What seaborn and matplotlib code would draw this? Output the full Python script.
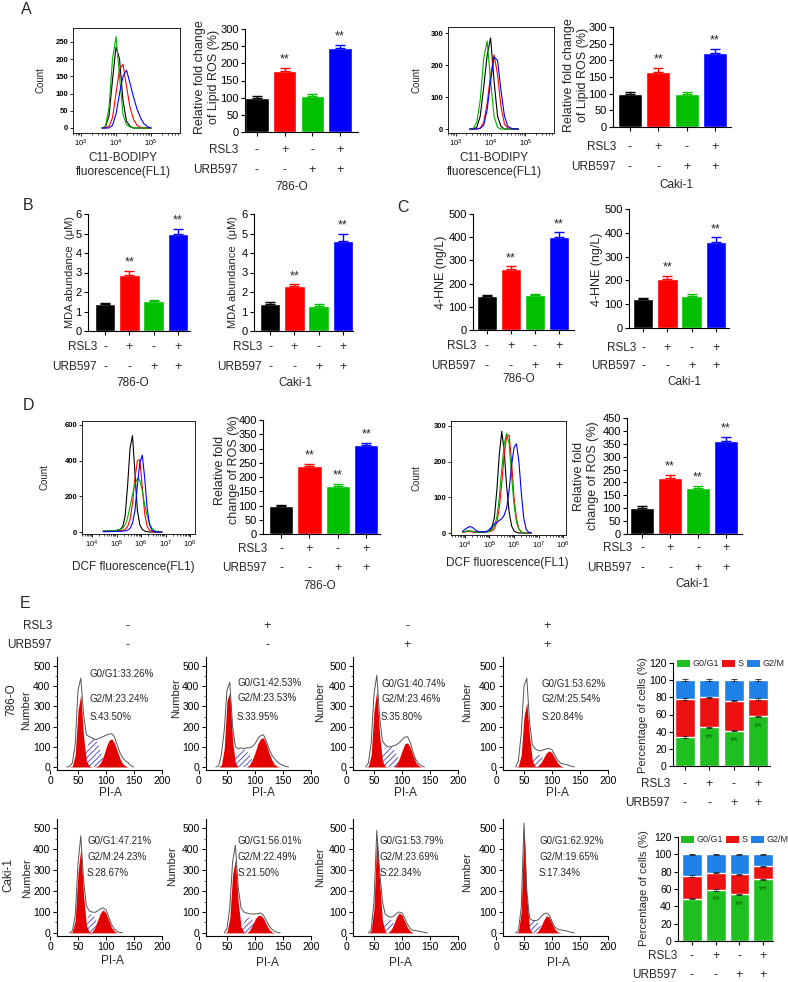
import numpy as np
import matplotlib
matplotlib.use("Agg")
import matplotlib.pyplot as plt
import matplotlib.transforms as mtrans
from matplotlib.patches import Patch
from matplotlib.ticker import MultipleLocator, LogLocator, NullFormatter
import seaborn as sns

W, H = 788, 982

#  DATA
treatments = ["Ctrl", "RSL3", "URB597", "RSL3+URB597"]
rsl3_row = ["-", "+", "-", "+"]
urb597_row = ["-", "-", "+", "+"]
bar_colors = ["#000000", "#ff0000", "#00c000", "#0000ff"]

# A - lipid ROS (%)
lipid_786 = [100, 178, 104, 244]
lipid_786_err = [4, 9, 6, 10]
lipid_caki = [100, 165, 98, 222]
lipid_caki_err = [5, 13, 6, 12]
# B - MDA (uM)
mda_786 = [1.38, 2.88, 1.52, 4.95]
mda_786_err = [0.08, 0.22, 0.07, 0.30]
mda_caki = [1.40, 2.30, 1.27, 4.60]
mda_caki_err = [0.08, 0.10, 0.12, 0.38]
# C - 4-HNE (ng/L)
hne_786 = [145, 265, 150, 400]
hne_786_err = [6, 10, 5, 22]
hne_caki = [123, 207, 135, 360]
hne_caki_err = [4, 12, 6, 22]
# D - ROS (%)
ros_786 = [100, 238, 168, 312]
ros_786_err = [3, 8, 9, 9]
ros_caki = [100, 218, 178, 360]
ros_caki_err = [10, 12, 10, 18]

# flow histograms, x = log10(FL1), order black / red / green / blue
a_786_logx = np.arange(3.6, 5.05, 0.1)
a_786_black = [0, 3, 35, 140, 235, 200, 80, 20, 5, 0, 0, 0, 0, 0, 0]
a_786_red = [0, 0, 5, 30, 100, 170, 185, 120, 60, 25, 8, 2, 0, 0, 0]
a_786_green = [0, 5, 60, 200, 265, 150, 40, 10, 3, 0, 0, 0, 0, 0, 0]
a_786_blue = [0, 0, 0, 8, 40, 100, 150, 168, 130, 90, 55, 30, 12, 4, 0]

a_caki_logx = np.arange(3.4, 4.85, 0.1)
a_caki_black = [0, 0, 5, 40, 130, 230, 285, 150, 40, 8, 0, 0, 0, 0, 0]
a_caki_red = [0, 0, 0, 3, 20, 80, 170, 232, 170, 70, 15, 3, 0, 0, 0]
a_caki_green = [0, 2, 20, 90, 220, 275, 150, 40, 5, 0, 0, 0, 0, 0, 0]
a_caki_blue = [0, 0, 0, 2, 12, 60, 150, 225, 215, 120, 40, 8, 2, 0, 0]

d_786_logx = np.arange(4.45, 6.86, 0.1)
d_786_black = [5, 5, 6, 6, 8, 8, 10, 15, 30, 90, 260, 470, 540, 330, 120, 40, 15, 5, 2, 0, 0, 0, 0, 0, 0]
d_786_red = [3, 3, 4, 4, 5, 6, 6, 8, 10, 15, 30, 70, 160, 300, 400, 405, 250, 100, 30, 10, 3, 0, 0, 0, 0]
d_786_green = [5, 5, 6, 7, 8, 9, 10, 14, 22, 40, 80, 140, 210, 270, 300, 290, 230, 150, 90, 45, 20, 8, 3, 0, 0]
d_786_blue = [2, 2, 2, 3, 3, 3, 4, 4, 5, 6, 10, 20, 50, 120, 260, 390, 430, 300, 130, 40, 10, 3, 0, 0, 0]

d_caki_logx = np.arange(3.9, 6.75, 0.1)
d_caki_black = [3, 4, 5, 5, 4, 3, 3, 3, 3, 3, 4, 6, 15, 45, 120, 220, 285, 230, 130, 60, 20, 6, 2, 0, 0, 0, 0, 0, 0]
d_caki_red = [2, 3, 4, 4, 3, 2, 2, 2, 2, 2, 3, 4, 6, 12, 30, 70, 140, 220, 270, 275, 200, 100, 40, 12, 3, 0, 0, 0, 0]
d_caki_green = [3, 4, 6, 6, 5, 3, 2, 2, 2, 2, 3, 5, 10, 20, 45, 100, 180, 250, 280, 250, 160, 80, 30, 10, 3, 0, 0, 0, 0]
d_caki_blue = [5, 10, 15, 18, 16, 10, 5, 3, 3, 3, 5, 10, 18, 25, 30, 35, 40, 50, 70, 120, 190, 240, 250, 200, 110, 40, 10, 2, 0]

# E - cell cycle (PI-A channel 30..160 step 5)
cycle_x = np.arange(30, 161, 5)
# 786-O: ctrl, RSL3, URB597, RSL3+URB597
e786_outline_1 = [0, 2, 20, 110, 380, 440, 260, 160, 150, 145, 135, 138, 145, 150, 158, 162, 165, 150, 110, 70, 45, 30, 20, 5, 0, 0, 0]
e786_g1_1 = [0, 0, 5, 60, 280, 360, 150, 30, 5, 0, 0, 0, 0, 0, 0, 0, 0, 0, 0, 0, 0, 0, 0, 0, 0, 0, 0]
e786_s_1 = [0, 0, 0, 0, 0, 0, 20, 80, 130, 145, 140, 120, 80, 40, 10, 0, 0, 0, 0, 0, 0, 0, 0, 0, 0, 0, 0]
e786_g2_1 = [0, 0, 0, 0, 0, 0, 0, 0, 0, 0, 0, 5, 20, 50, 95, 130, 140, 120, 80, 40, 15, 5, 0, 0, 0, 0, 0]

e786_outline_2 = [0, 5, 60, 180, 380, 420, 200, 100, 90, 95, 90, 95, 95, 100, 115, 140, 155, 160, 130, 90, 60, 40, 25, 15, 8, 2, 0]
e786_g1_2 = [0, 0, 10, 90, 330, 370, 130, 20, 0, 0, 0, 0, 0, 0, 0, 0, 0, 0, 0, 0, 0, 0, 0, 0, 0, 0, 0]
e786_s_2 = [0, 0, 0, 0, 0, 0, 10, 50, 75, 85, 85, 80, 60, 35, 10, 0, 0, 0, 0, 0, 0, 0, 0, 0, 0, 0, 0]
e786_g2_2 = [0, 0, 0, 0, 0, 0, 0, 0, 0, 0, 0, 0, 10, 35, 70, 115, 140, 145, 115, 70, 35, 12, 3, 0, 0, 0, 0]

e786_outline_3 = [0, 0, 20, 120, 360, 455, 250, 130, 110, 100, 100, 105, 110, 120, 135, 148, 150, 120, 70, 35, 15, 5, 0, 0, 0, 0, 0]
e786_g1_3 = [0, 0, 5, 60, 280, 380, 160, 30, 3, 0, 0, 0, 0, 0, 0, 0, 0, 0, 0, 0, 0, 0, 0, 0, 0, 0, 0]
e786_s_3 = [0, 0, 0, 0, 0, 0, 20, 70, 95, 100, 100, 90, 65, 35, 10, 0, 0, 0, 0, 0, 0, 0, 0, 0, 0, 0, 0]
e786_g2_3 = [0, 0, 0, 0, 0, 0, 0, 0, 0, 0, 0, 0, 10, 40, 80, 115, 120, 95, 55, 22, 6, 0, 0, 0, 0, 0, 0]

e786_outline_4 = [0, 0, 30, 165, 400, 440, 220, 110, 90, 82, 80, 85, 90, 92, 85, 60, 35, 20, 15, 12, 8, 3, 0, 0, 0, 0, 0]
e786_g1_4 = [0, 0, 5, 60, 250, 320, 150, 30, 3, 0, 0, 0, 0, 0, 0, 0, 0, 0, 0, 0, 0, 0, 0, 0, 0, 0, 0]
e786_s_4 = [0, 0, 0, 0, 0, 0, 10, 40, 58, 62, 55, 40, 20, 5, 0, 0, 0, 0, 0, 0, 0, 0, 0, 0, 0, 0, 0]
e786_g2_4 = [0, 0, 0, 0, 0, 0, 0, 0, 0, 5, 20, 45, 70, 80, 70, 45, 20, 6, 0, 0, 0, 0, 0, 0, 0, 0, 0]

# Caki-1
ecaki_outline_1 = [0, 0, 10, 80, 330, 465, 250, 130, 105, 100, 98, 105, 115, 120, 110, 75, 40, 18, 6, 2, 0, 0, 0, 0, 0, 0, 0]
ecaki_g1_1 = [0, 0, 5, 60, 290, 405, 180, 35, 3, 0, 0, 0, 0, 0, 0, 0, 0, 0, 0, 0, 0, 0, 0, 0, 0, 0, 0]
ecaki_s_1 = [0, 0, 0, 0, 0, 0, 15, 60, 85, 90, 75, 45, 15, 0, 0, 0, 0, 0, 0, 0, 0, 0, 0, 0, 0, 0, 0]
ecaki_g2_1 = [0, 0, 0, 0, 0, 0, 0, 0, 0, 5, 25, 60, 95, 110, 95, 60, 25, 8, 0, 0, 0, 0, 0, 0, 0, 0, 0]

ecaki_outline_2 = [0, 0, 0, 0, 20, 120, 340, 420, 220, 120, 100, 95, 92, 90, 90, 92, 95, 85, 60, 35, 18, 8, 2, 0, 0, 0, 0]
ecaki_g1_2 = [0, 0, 0, 0, 5, 70, 280, 350, 150, 30, 3, 0, 0, 0, 0, 0, 0, 0, 0, 0, 0, 0, 0, 0, 0, 0, 0]
ecaki_s_2 = [0, 0, 0, 0, 0, 0, 0, 0, 0, 15, 50, 70, 75, 65, 40, 15, 0, 0, 0, 0, 0, 0, 0, 0, 0, 0, 0]
ecaki_g2_2 = [0, 0, 0, 0, 0, 0, 0, 0, 0, 0, 0, 0, 10, 35, 65, 82, 85, 70, 42, 18, 5, 0, 0, 0, 0, 0, 0]

ecaki_outline_3 = [0, 0, 0, 15, 150, 490, 300, 150, 90, 80, 75, 80, 92, 100, 95, 70, 40, 20, 12, 10, 8, 5, 2, 0, 0, 0, 0]
ecaki_g1_3 = [0, 0, 0, 10, 120, 460, 250, 60, 5, 0, 0, 0, 0, 0, 0, 0, 0, 0, 0, 0, 0, 0, 0, 0, 0, 0, 0]
ecaki_s_3 = [0, 0, 0, 0, 0, 0, 0, 20, 55, 70, 65, 45, 15, 0, 0, 0, 0, 0, 0, 0, 0, 0, 0, 0, 0, 0, 0]
ecaki_g2_3 = [0, 0, 0, 0, 0, 0, 0, 0, 0, 0, 10, 40, 75, 95, 85, 55, 25, 8, 0, 0, 0, 0, 0, 0, 0, 0, 0]

ecaki_outline_4 = [0, 0, 10, 120, 525, 200, 70, 60, 58, 62, 75, 90, 95, 85, 55, 28, 18, 15, 12, 10, 6, 2, 0, 0, 0, 0, 0]
ecaki_g1_4 = [0, 0, 5, 100, 515, 170, 20, 0, 0, 0, 0, 0, 0, 0, 0, 0, 0, 0, 0, 0, 0, 0, 0, 0, 0, 0, 0]
ecaki_s_4 = [0, 0, 0, 0, 0, 10, 45, 58, 60, 50, 30, 10, 0, 0, 0, 0, 0, 0, 0, 0, 0, 0, 0, 0, 0, 0, 0]
ecaki_g2_4 = [0, 0, 0, 0, 0, 0, 0, 0, 0, 8, 30, 60, 82, 75, 45, 18, 5, 0, 0, 0, 0, 0, 0, 0, 0, 0, 0]

# ModFit percentages written in each histogram
g1_pct_786 = [33.26, 42.53, 40.74, 53.62]
g2_pct_786 = [23.24, 23.53, 23.46, 25.54]
s_pct_786 = [43.50, 33.95, 35.80, 20.84]
g1_pct_caki = [47.21, 56.01, 53.79, 62.92]
g2_pct_caki = [24.23, 22.49, 23.69, 19.65]
s_pct_caki = [28.67, 21.50, 22.34, 17.34]

# stacked summary (% of cells)
phase_names = ["G0/G1", "S", "G2/M"]
phase_colors = ["#1fbf1f", "#ee1111", "#1f80e8"]
cc_786_g1 = [34, 45, 41, 58]
cc_786_s = [44, 35, 35, 20]
cc_786_g2 = [22, 20, 24, 22]
cc_caki_g1 = [49, 59, 54, 71]
cc_caki_s = [26, 20, 23, 15]
cc_caki_g2 = [25, 21, 23, 14]


#  HELPERS
def px_rect(l, t, r, b):
    return [l / W, 1 - b / H, (r - l) / W, (b - t) / H]


def put(fig, x, y, s, size=8.5, **kw):
    kw.setdefault("ha", "center")
    kw.setdefault("va", "center")
    fig.text(x / W, 1 - y / H, s, fontsize=size, **kw)


def treatment_rows(fig, ax, rows_y, lab_x, size=8.5):
    tr = mtrans.blended_transform_factory(ax.transData, fig.transFigure)
    for y, signs, name in [(rows_y[0], rsl3_row, "RSL3"), (rows_y[1], urb597_row, "URB597")]:
        put(fig, lab_x, y, name, size=size, ha="right")
        for i, s in enumerate(signs):
            ax.text(i, 1 - y / H, s, transform=tr, ha="center", va="center", fontsize=size + 0.5)


def bar_panel(fig, rect, xlim, vals, errs, ymax, ystep, stars, ylabel, ylab_xy,
              rows_y, lab_x, cell, cell_xy, ylab_size=9):
    ax = fig.add_axes(px_rect(*rect))
    sns.barplot(x=treatments, y=vals, hue=treatments, palette=bar_colors, saturation=1,
                width=0.85, legend=False, errorbar=None, ax=ax)
    for i, (v, e) in enumerate(zip(vals, errs)):
        ax.errorbar(i, v, yerr=[[0], [e]], fmt="none", ecolor=bar_colors[i],
                    elinewidth=1, capsize=3.5, capthick=1)
    for i in stars:
        ax.annotate("**", (i, vals[i] + errs[i]), xytext=(0, 1.5), textcoords="offset points",
                    ha="center", va="bottom", fontsize=9)
    ax.set_xlim(*xlim)
    ax.set_ylim(0, ymax)
    ax.yaxis.set_major_locator(MultipleLocator(ystep))
    ax.set_xticks(range(4))
    ax.set_xticklabels([])
    ax.set_xlabel("")
    ax.set_ylabel("")
    ax.tick_params(labelsize=8, length=3, width=0.8, pad=1.5)
    sns.despine(ax=ax)
    put(fig, *ylab_xy, ylabel, size=ylab_size, rotation=90, linespacing=1.25)
    treatment_rows(fig, ax, rows_y, lab_x)
    put(fig, *cell_xy, cell, size=8.5)
    return ax


def hist_panel(fig, rect, xlim, ylim, yticks, decades, logx, curves, colors, count_xy, xlab, xlab_xy):
    ax = fig.add_axes(px_rect(*rect))
    for counts, col in zip(curves, colors):
        sns.lineplot(x=10 ** logx, y=counts, color=col, linewidth=0.8, ax=ax)
    ax.set_xscale("log")
    ax.set_xlim(10 ** xlim[0], 10 ** xlim[1])
    ax.set_xticks([10.0 ** d for d in decades])
    ax.xaxis.set_minor_locator(LogLocator(base=10, subs=range(2, 10), numticks=20))
    ax.xaxis.set_minor_formatter(NullFormatter())
    ax.set_ylim(*ylim)
    ax.set_yticks(yticks)
    ax.tick_params(labelsize=5.5, length=2.5, width=0.6, pad=1)
    ax.tick_params(which="minor", length=1.5, width=0.5)
    plt.setp(ax.get_yticklabels(), fontweight="bold")
    for sp in ax.spines.values():
        sp.set_linewidth(0.6)
    ax.set_xlabel("")
    ax.set_ylabel("")
    put(fig, *count_xy, "Count", size=7, rotation=90)
    put(fig, *xlab_xy, xlab, size=8.5, linespacing=1.3)
    return ax


def trimmed(x, y):
    y = np.asarray(y, float)
    nz = np.nonzero(y)[0]
    lo, hi = max(nz[0] - 1, 0), min(nz[-1] + 2, len(y))
    return x[lo:hi], y[lo:hi]


def cycle_panel(fig, rect, outline, g1, s_ph, g2, lines, text_x, text_ys, number_xy, pia_xy):
    ax = fig.add_axes(px_rect(*rect))
    ax.fill_between(cycle_x, s_ph, facecolor="white", edgecolor="#3c3cc8", hatch="//////", linewidth=0)
    ax.fill_between(cycle_x, g1, facecolor="#e40000", linewidth=0)
    ax.fill_between(cycle_x, g2, facecolor="#e40000", linewidth=0)
    ox, oy = trimmed(cycle_x, outline)
    sns.lineplot(x=ox, y=oy, color="#555555", linewidth=0.7, ax=ax)
    ax.set_xlim(0, 200)
    ax.set_ylim(-15, 545)
    ax.set_xticks([0, 50, 100, 150, 200])
    ax.set_yticks(range(0, 501, 100))
    ax.yaxis.set_minor_locator(MultipleLocator(50))
    ax.tick_params(labelsize=7.5, length=3, width=0.7, pad=1.5)
    ax.tick_params(which="minor", length=1.5, width=0.5)
    sns.despine(ax=ax)
    ax.spines["left"].set_position(("data", 12))
    ax.spines["bottom"].set_bounds(12, 200)
    ax.set_xlabel("")
    ax.set_ylabel("")
    for s, y in zip(lines, text_ys):
        put(fig, text_x, y, s, size=7, ha="left")
    put(fig, *number_xy, "Number", size=8, rotation=90)
    put(fig, *pia_xy, "PI-A", size=8.5)
    return ax


def stack_panel(fig, rect, xlim, g1, s_ph, g2, leg_xy, rows_y, lab_x, ylab_xy):
    ax = fig.add_axes(px_rect(*rect))
    g1 = np.asarray(g1, float)
    mid = g1 + np.asarray(s_ph)
    top = mid + np.asarray(g2)
    for vals, col in [(top, phase_colors[2]), (mid, phase_colors[1]), (g1, phase_colors[0])]:
        sns.barplot(x=treatments, y=vals, color=col, saturation=1, width=0.83, errorbar=None, ax=ax)
        ax.errorbar(range(4), vals, yerr=0.8, fmt="none", ecolor="#222222",
                    elinewidth=0.6, capsize=2, capthick=0.6)
    for i in [1, 2, 3]:
        ax.annotate("**", (i, g1[i]), xytext=(0, -4), textcoords="offset points",
                    ha="center", va="top", fontsize=8, color="#0b6a0b")
    ax.set_xlim(*xlim)
    ax.set_ylim(0, 120)
    ax.yaxis.set_major_locator(MultipleLocator(20))
    ax.set_xticks(range(4))
    ax.set_xticklabels([])
    ax.set_xlabel("")
    ax.set_ylabel("")
    ax.tick_params(labelsize=7.5, length=3, width=0.8, pad=1.5)
    sns.despine(ax=ax)
    handles = [Patch(facecolor=c, edgecolor="none") for c in phase_colors]
    ax.legend(handles, phase_names, ncol=3, frameon=False, fontsize=6.5, handlelength=1.4,
              handleheight=0.9, handletextpad=0.3, columnspacing=0.4, loc="center left",
              bbox_to_anchor=(leg_xy[0] / W, 1 - leg_xy[1] / H), bbox_transform=fig.transFigure,
              borderpad=0, borderaxespad=0)
    put(fig, *ylab_xy, "Percentage of cells (%)", size=8, rotation=90)
    treatment_rows(fig, ax, rows_y, lab_x)
    return ax


#  MAIN
def main():
    sns.set_style("ticks")
    plt.rcParams["font.family"] = ["Liberation Sans", "DejaVu Sans"]
    plt.rcParams["mathtext.fontset"] = "custom"
    plt.rcParams["mathtext.rm"] = "Liberation Sans"
    plt.rcParams["axes.edgecolor"] = "black"
    plt.rcParams["xtick.color"] = "black"
    plt.rcParams["ytick.color"] = "black"
    plt.rcParams["axes.linewidth"] = 0.8
    plt.rcParams["hatch.linewidth"] = 0.6

    fig = plt.figure(figsize=(W / 100, H / 100), dpi=100)
    hist_cols = ["black", "red", "#00b000", "blue"]

    # panel letters
    for letter, x, y in [("A", 26, 10), ("B", 28, 205), ("C", 403, 208), ("D", 28, 405), ("E", 25, 603)]:
        put(fig, x, y, letter, size=11.5)

    # A
    hist_panel(fig, (73, 28, 180, 133), (2.77, 5.83), (-14.5, 290), range(0, 251, 50), [3, 4, 5],
               a_786_logx, [a_786_black, a_786_red, a_786_green, a_786_blue], hist_cols, (40, 80),
               "C11-BODIPY\nfluorescence(FL1)", (123, 165))
    bar_panel(fig, (245, 29, 358, 132), (-0.43, 3.65), lipid_786, lipid_786_err, 300, 50, [1, 3],
              "Relative fold change\nof Lipid ROS (%)", (207, 77), (150, 170), 238, "786-O", (292, 187))
    hist_panel(fig, (448, 27, 554, 133), (2.77, 5.83), (-12.5, 319), range(0, 301, 100), [3, 4, 5],
               a_caki_logx, [a_caki_black, a_caki_red, a_caki_green, a_caki_blue], hist_cols, (416, 80),
               "C11-BODIPY\nfluorescence(FL1)", (494, 165))
    bar_panel(fig, (613, 27, 731, 127), (-0.6, 3.57), lipid_caki, lipid_caki_err, 300, 50, [1, 3],
              "Relative fold change\nof Lipid ROS (%)", (576, 75), (147, 167), 616, "Caki-1", (676, 185))

    # B
    bar_panel(fig, (88, 214, 190, 331), (-0.7, 3.5), mda_786, mda_786_err, 6, 1, [1, 3],
              "MDA abundance  (\u03bcM)", (70, 272), (347, 367), 97, "786-O", (133, 383), ylab_size=8)
    bar_panel(fig, (254, 214, 353, 331), (-0.66, 3.41), mda_caki, mda_caki_err, 6, 1, [1, 3],
              "MDA abundance  (\u03bcM)", (233, 272), (347, 367), 262, "Caki-1", (295, 383), ylab_size=8)

    # C
    bar_panel(fig, (473, 214, 574, 330), (-0.58, 3.63), hne_786, hne_786_err, 500, 100, [1, 3],
              "4-HNE (ng/L)", (441, 272), (346, 366), 476, "786-O", (519, 379))
    bar_panel(fig, (629, 209, 729, 328), (-0.58, 3.53), hne_caki, hne_caki_err, 500, 100, [1, 3],
              "4-HNE (ng/L)", (597, 269), (348, 366), 636, "Caki-1", (684, 382))

    # D
    hist_panel(fig, (82, 421, 195, 534), (3.59, 8.2), (-11, 622), range(0, 601, 200), [4, 5, 6, 7, 8],
               d_786_logx, [d_786_black, d_786_red, d_786_green, d_786_blue], hist_cols, (45, 477),
               "DCF fluorescence(FL1)", (133, 567))
    bar_panel(fig, (263, 420, 380, 534), (-0.64, 3.49), ros_786, ros_786_err, 400, 50, [1, 2, 3],
              "Relative fold\nchange of ROS (%)", (227, 470), (549, 568), 267, "786-O", (320, 586))
    hist_panel(fig, (451, 421, 566, 535), (3.43, 8.12), (-5.6, 314), range(0, 301, 100), [4, 5, 6, 7, 8],
               d_caki_logx, [d_caki_black, d_caki_red, d_caki_green, d_caki_blue], hist_cols, (416, 478),
               "DCF fluorescence(FL1)", (507, 563))
    bar_panel(fig, (627, 418, 742, 534), (-0.54, 3.57), ros_caki, ros_caki_err, 450, 50, [1, 2, 3],
              "Relative fold\nchange of ROS (%)", (586, 476), (548, 568), 632, "Caki-1", (692, 584))

    # E header
    put(fig, 52, 626, "RSL3", size=8.5, ha="right")
    put(fig, 52, 645, "URB597", size=8.5, ha="right")
    for x, a, b in zip([127, 267, 407, 547], rsl3_row, urb597_row):
        put(fig, x, 626, a, size=9)
        put(fig, x, 645, b, size=9)
    put(fig, 11, 700, "786-O", size=8.5, rotation=90)
    put(fig, 8, 875, "Caki-1", size=8.5, rotation=90)

    lefts = [50, 199, 346, 496]
    top_sets = [(e786_outline_1, e786_g1_1, e786_s_1, e786_g2_1),
                (e786_outline_2, e786_g1_2, e786_s_2, e786_g2_2),
                (e786_outline_3, e786_g1_3, e786_s_3, e786_g2_3),
                (e786_outline_4, e786_g1_4, e786_s_4, e786_g2_4)]
    bot_sets = [(ecaki_outline_1, ecaki_g1_1, ecaki_s_1, ecaki_g2_1),
                (ecaki_outline_2, ecaki_g1_2, ecaki_s_2, ecaki_g2_2),
                (ecaki_outline_3, ecaki_g1_3, ecaki_s_3, ecaki_g2_3),
                (ecaki_outline_4, ecaki_g1_4, ecaki_s_4, ecaki_g2_4)]
    top_text_x = [90, 237, 381, 542]
    top_text_ys = [[674, 699, 717], [683, 698, 717], [684, 699, 717], [684, 699, 717]]
    top_number = [(26, 710), (176, 698), (320, 702), (467, 702)]
    top_pia = [(110, 793), (263, 793), (405, 793), (557, 793)]
    bot_text_x = [87, 238, 380, 539]
    bot_number = [(27, 878), (172, 866), (320, 867), (467, 872)]
    bot_pia = [(112, 961), (267, 963), (400, 963), (558, 963)]

    for k in range(4):
        x0 = lefts[k]
        lines = ["G0/G1:%.2f%%" % g1_pct_786[k], "G2/M:%.2f%%" % g2_pct_786[k], "S:%.2f%%" % s_pct_786[k]]
        cycle_panel(fig, (x0, 657, x0 + 112, 770), *top_sets[k], lines, top_text_x[k],
                    top_text_ys[k], top_number[k], top_pia[k])
        lines = ["G0/G1:%.2f%%" % g1_pct_caki[k], "G2/M:%.2f%%" % g2_pct_caki[k], "S:%.2f%%" % s_pct_caki[k]]
        cycle_panel(fig, (x0, 819, x0 + 112, 936), *bot_sets[k], lines, bot_text_x[k],
                    [841, 857, 873], bot_number[k], bot_pia[k])

    stack_panel(fig, (673, 663, 770, 766), (-0.49, 3.49), cc_786_g1, cc_786_s, cc_786_g2,
                (677, 664), (784, 803), 670, (643, 715))
    stack_panel(fig, (678, 837, 773, 941), (-0.59, 3.42), cc_caki_g1, cc_caki_s, cc_caki_g2,
                (681, 840), (956, 975), 677, (644, 888))

    fig.savefig("out.png", dpi=100)
    plt.close(fig)


if __name__ == "__main__":
    main()
